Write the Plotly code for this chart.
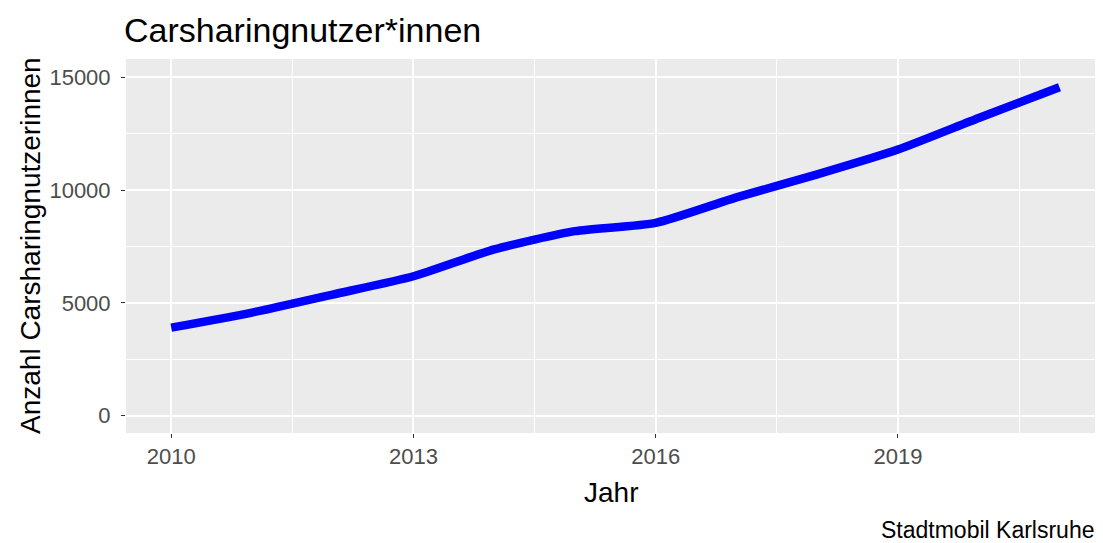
import plotly.graph_objects as go

years = [2010, 2011, 2012, 2013, 2014, 2015, 2016, 2017, 2018, 2019, 2020, 2021]
users = [3900, 4570, 5370, 6180, 7370, 8180, 8550, 9680, 10700, 11800, 13200, 14560]

x_ticks = [2010, 2013, 2016, 2019]
y_ticks = [0, 5000, 10000, 15000]

title_text = "Carsharingnutzer*innen"
x_title = "Jahr"
y_title = "Anzahl Carsharingnutzerinnen"
caption = "Stadtmobil Karlsruhe"

FONT = "Arial, Liberation Sans, sans-serif"

fig = go.Figure()
fig.add_trace(go.Scatter(
    x=years, y=users, mode="lines",
    line=dict(color="#0000FF", width=8.5, shape="spline", smoothing=0.6),
    hoverinfo="x+y", showlegend=False,
))

W, H = 1103, 543
L, R, T, B = 126, 8, 59, 110

fig.update_layout(
    width=W, height=H,
    margin=dict(l=L, r=R, t=T, b=B, autoexpand=False),
    paper_bgcolor="white",
    plot_bgcolor="#EBEBEB",
    font=dict(family=FONT, color="#000000"),
    title=dict(text=title_text, x=124 / W, xanchor="left", xref="container",
               y=1 - 30 / H, yanchor="middle", yref="container",
               font=dict(size=34, color="#000000", family=FONT)),
    xaxis=dict(
        range=[2009.44, 2021.44], tickvals=x_ticks, ticktext=[str(v) for v in x_ticks],
        showgrid=True, gridcolor="white", gridwidth=2,
        minor=dict(tickvals=[2011.5, 2014.5, 2017.5, 2020.5], showgrid=True,
                   gridcolor="white", gridwidth=1, ticks=""),
        ticks="outside", ticklen=4, tickcolor="#333333", tickwidth=1,
        tickfont=dict(size=22, color="#4D4D4D", family=FONT),
        zeroline=False, showline=False, ticklabelstandoff=0, automargin=False,
    ),
    yaxis=dict(
        range=[-770, 15815], tickvals=y_ticks, ticktext=[str(v) for v in y_ticks],
        showgrid=True, gridcolor="white", gridwidth=2,
        minor=dict(tickvals=[2500, 7500, 12500], showgrid=True,
                   gridcolor="white", gridwidth=1, ticks=""),
        ticks="outside", ticklen=4, tickcolor="#333333", tickwidth=1,
        tickfont=dict(size=22, color="#4D4D4D", family=FONT),
        zeroline=False, showline=False, ticklabelstandoff=6, automargin=False,
    ),
    annotations=[
        dict(text=x_title, xref="paper", yref="paper", x=0.5, y=0,
             yshift=-(492 - (H - B)), xanchor="center", yanchor="middle",
             showarrow=False, font=dict(size=28, color="#000000", family=FONT)),
        dict(text=y_title, xref="paper", yref="paper", x=0, y=0.5,
             xshift=-(L - 30), xanchor="center", yanchor="middle", textangle=-90,
             showarrow=False, font=dict(size=28, color="#000000", family=FONT)),
        dict(text=caption, xref="paper", yref="paper", x=1, y=0,
             xshift=R - 6, yshift=-(530 - (H - B)), xanchor="right", yanchor="middle",
             showarrow=False, font=dict(size=23, color="#000000", family=FONT)),
    ],
)

fig.write_html("out.html", config={"displayModeBar": False},
               post_script="document.body.style.margin='0';document.body.style.overflow='hidden';")
